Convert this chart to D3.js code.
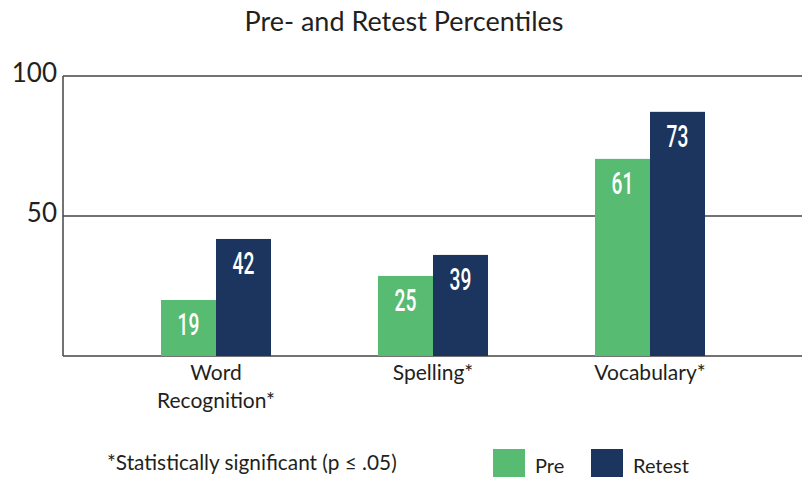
<!DOCTYPE html>
<html>
<head>
<meta charset="utf-8">
<script src="https://cdn.jsdelivr.net/npm/d3@7"></script>
<style>
  body { margin: 0; background: #fff; }
  text { font-family: Lato, "Open Sans", sans-serif; fill: #231f20; }
</style>
</head>
<body>
<script>
const categories = ['Word Recognition*', 'Spelling*', 'Vocabulary*'];
const series = ['Pre', 'Retest'];
// bar heights as drawn in the picture (the printed labels differ)
const preValues = [20, 28.6, 70.4];
const retestValues = [41.8, 36.1, 87.2];
const preLabels = ['19', '25', '61'];
const retestLabels = ['42', '39', '73'];
const yTicks = [50, 100];
const colors = ['#58bb72', '#1c355e'];

function start() {
    const width = 802, height = 477;
    const margin = { top: 76, right: 0, bottom: 121, left: 63 };

    const svg = d3.select('body').append('svg')
        .attr('width', width)
        .attr('height', height);

    const y = d3.scaleLinear().domain([0, 100]).range([height - margin.bottom, margin.top]);
    const x = d3.scaleBand().domain(categories).range([107.5, 758.5]);
    const xs = d3.scaleBand().domain(series).range([0, 110]);

    svg.append('text')
        .attr('x', 404).attr('y', 31)
        .attr('text-anchor', 'middle')
        .attr('font-size', 27)
        .text('Pre- and Retest Percentiles');

    // gridlines at the ticks, plus frame
    const grid = svg.append('g');
    grid.selectAll('line.h')
        .data([0].concat(yTicks))
        .enter().append('line')
        .attr('x1', margin.left).attr('x2', width)
        .attr('y1', (d) => y(d)).attr('y2', (d) => y(d))
        .attr('stroke', '#444').attr('stroke-width', 1.5);
    grid.append('line')
        .attr('x1', margin.left).attr('x2', margin.left)
        .attr('y1', y(100)).attr('y2', y(0))
        .attr('stroke', '#444').attr('stroke-width', 1.5);

    svg.selectAll('text.ytick')
        .data(yTicks)
        .enter().append('text')
        .attr('x', 57).attr('y', (d) => y(d) + 6)
        .attr('text-anchor', 'end')
        .attr('font-size', 26)
        .text((d) => d);

    const rows = categories.map((c, i) => ({
        cat: c,
        vals: [
            { s: 'Pre', v: preValues[i], label: preLabels[i], color: colors[0] },
            { s: 'Retest', v: retestValues[i], label: retestLabels[i], color: colors[1] }
        ]
    }));

    const groups = svg.selectAll('g.grp')
        .data(rows)
        .enter().append('g')
        .attr('transform', (d) => 'translate(' + (x(d.cat) + x.bandwidth() / 2 - 55) + ',0)');

    groups.selectAll('rect')
        .data((d) => d.vals)
        .enter().append('rect')
        .attr('x', (d) => xs(d.s))
        .attr('width', xs.bandwidth())
        .attr('y', (d) => y(d.v))
        .attr('height', (d) => y(0) - y(d.v))
        .attr('fill', (d) => d.color);

    // condensed value labels: squeeze a regular face horizontally
    groups.selectAll('text.val')
        .data((d) => d.vals)
        .enter().append('text')
        .attr('transform', (d) => 'translate(' + (xs(d.s) + xs.bandwidth() / 2) + ',' + (y(d.v) + 35) + ') scale(0.6,1)')
        .attr('text-anchor', 'middle')
        .style('font-family', 'Roboto, sans-serif')
        .attr('font-weight', 500)
        .attr('font-size', 32)
        .style('fill', '#fff')
        .text((d) => d.label);

    // category labels, wrapped
    const catLines = {
        'Word Recognition*': ['Word', 'Recognition*'],
        'Spelling*': ['Spelling*'],
        'Vocabulary*': ['Vocabulary*']
    };
    svg.selectAll('text.cat')
        .data(categories)
        .enter().append('text')
        .attr('text-anchor', 'middle')
        .attr('font-size', 21)
        .each(function (d) {
            const t = d3.select(this);
            catLines[d].forEach((line, i) => {
                t.append('tspan')
                    .attr('x', x(d) + x.bandwidth() / 2)
                    .attr('y', 380 + i * 28)
                    .text(line);
            });
        });

    svg.append('text')
        .attr('x', 107).attr('y', 470)
        .attr('font-size', 20.8)
        .text('*Statistically significant (p \u2264 .05)');

    const legend = svg.selectAll('g.leg')
        .data(series)
        .enter().append('g')
        .attr('transform', (d, i) => 'translate(' + (493 + i * 98) + ',449)');
    legend.append('rect')
        .attr('width', 32).attr('height', 28)
        .attr('fill', (d, i) => colors[i]);
    legend.append('text')
        .attr('x', 42).attr('y', 24)
        .attr('font-size', 20)
        .text((d) => d);
}

document.addEventListener('DOMContentLoaded', () => start());
</script>
</body>
</html>
